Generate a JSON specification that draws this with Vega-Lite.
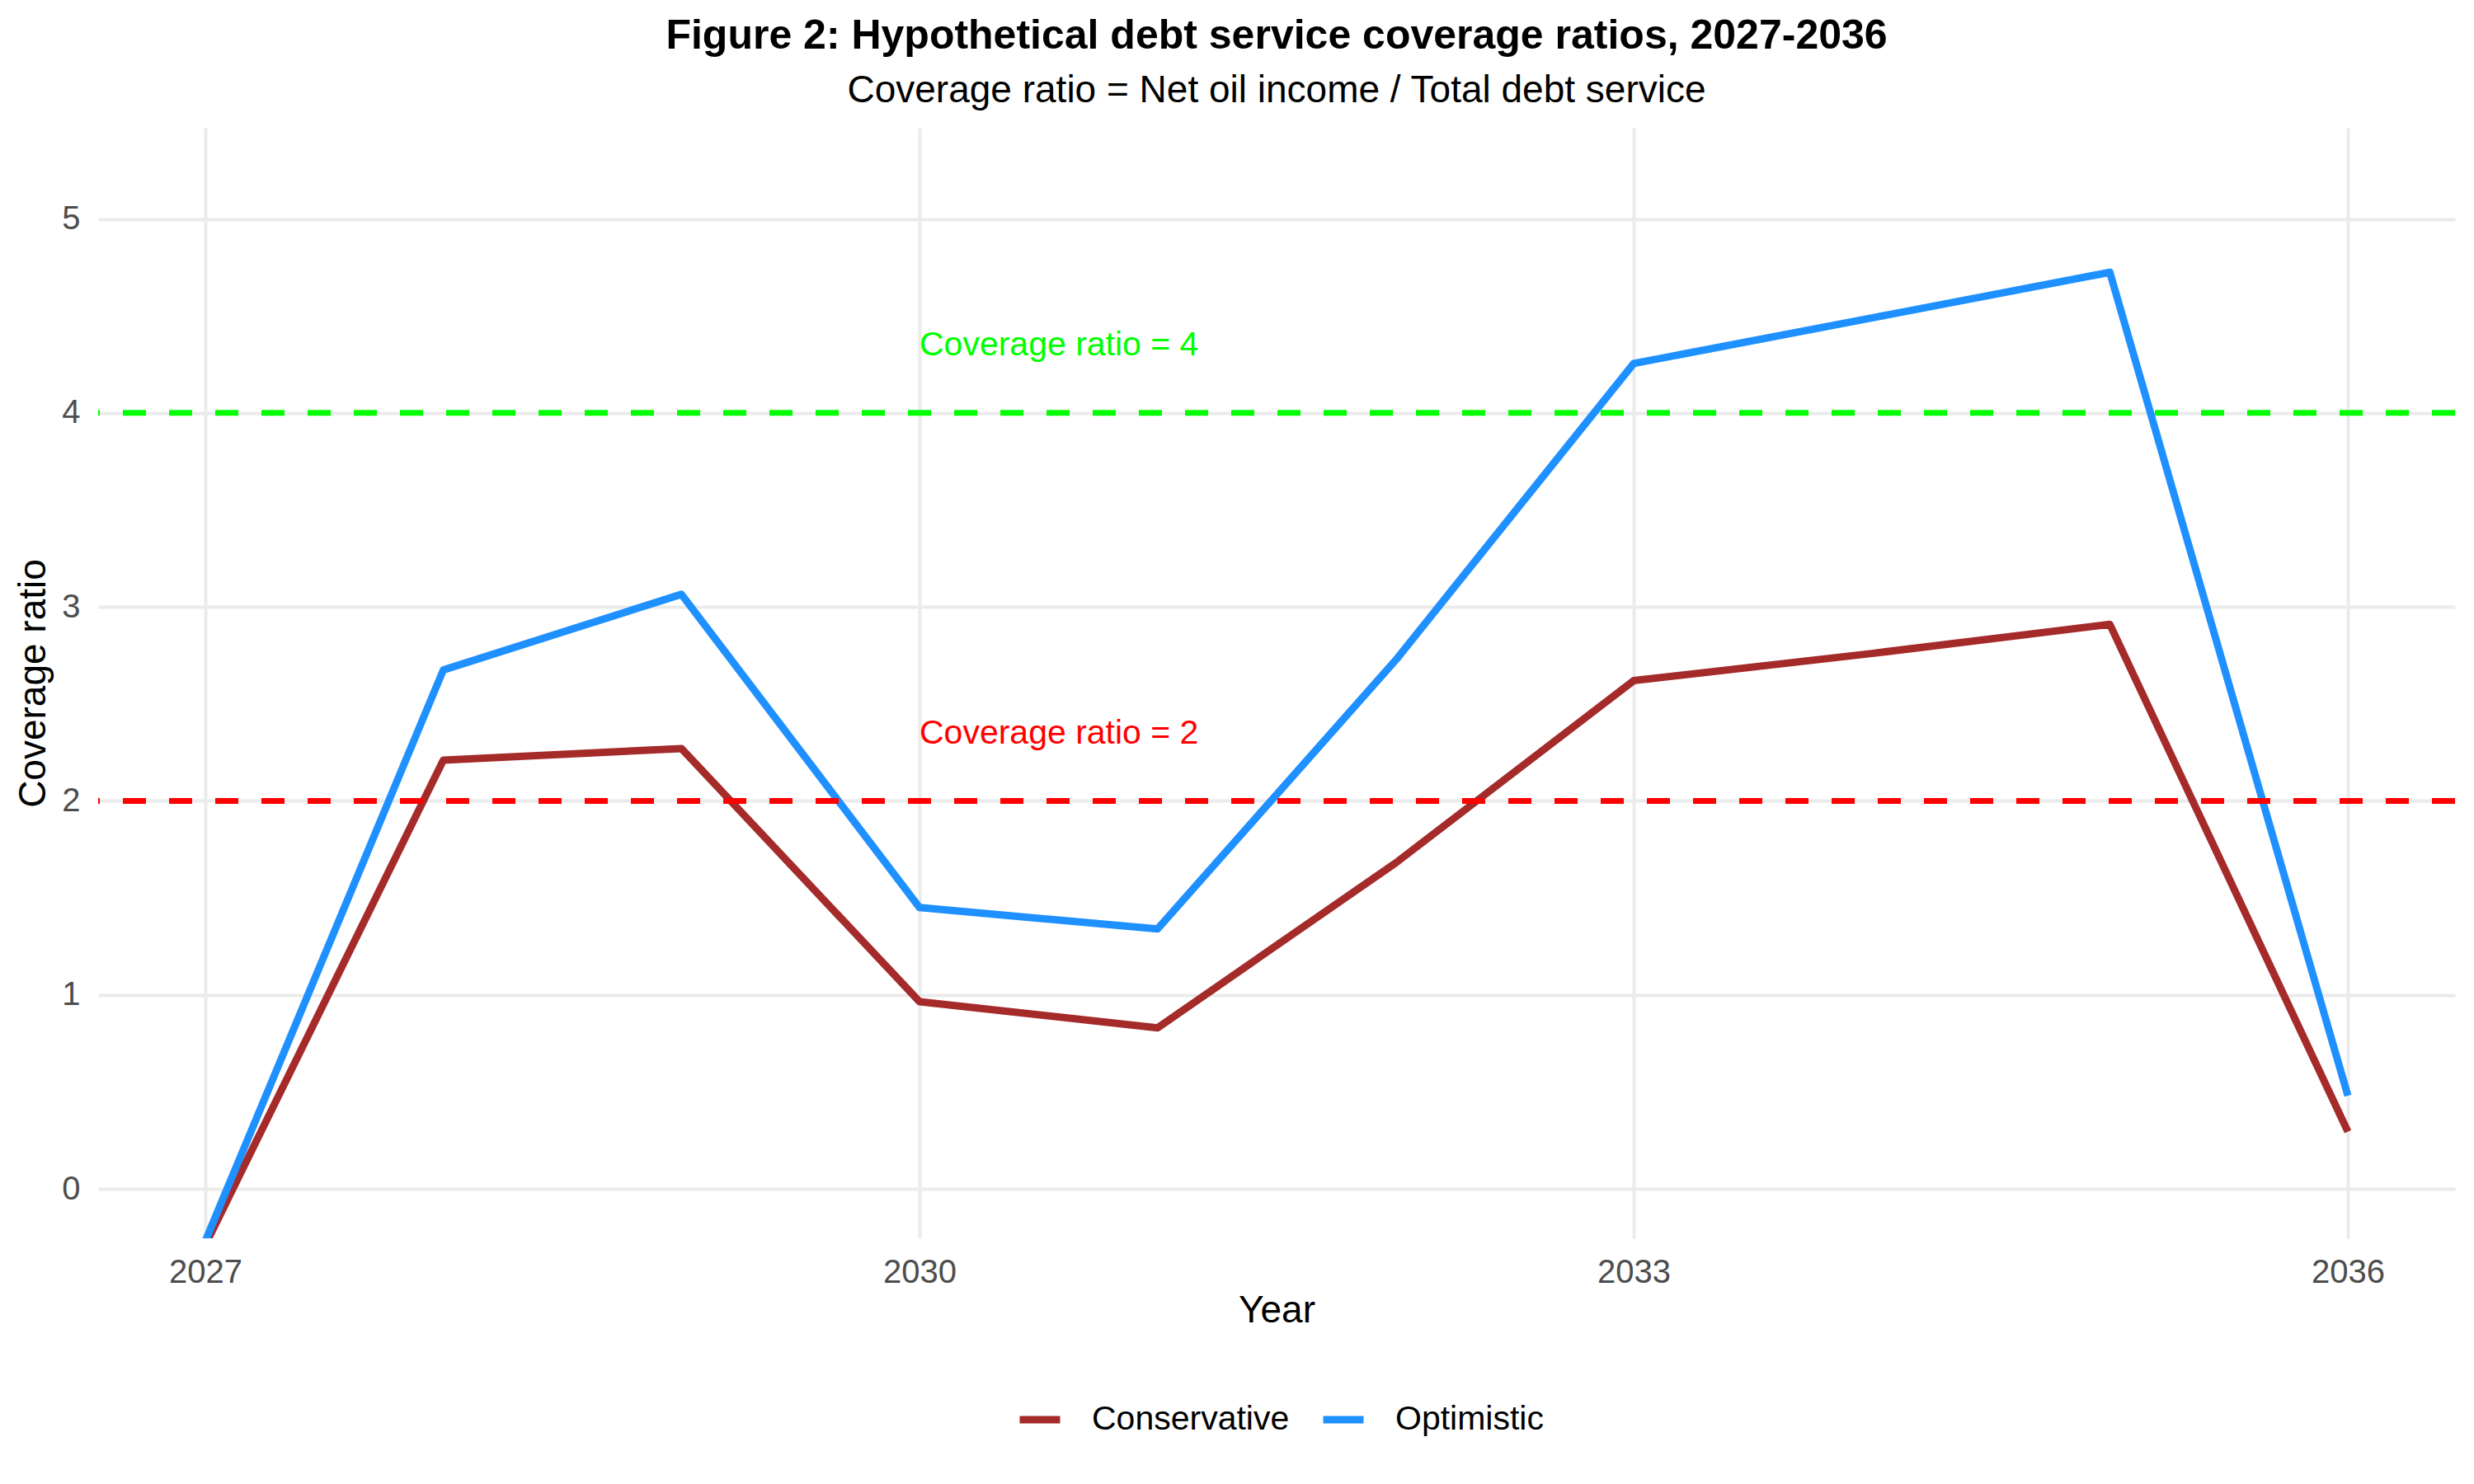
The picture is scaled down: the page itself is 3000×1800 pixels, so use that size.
{
  "$schema": "https://vega.github.io/schema/vega-lite/v6.json",
  "width": 2858,
  "height": 1347,
  "autosize": {"type": "none"},
  "padding": {"left": 119, "top": 155, "right": 23, "bottom": 298},
  "background": "white",
  "title": {
    "text": "Figure 2: Hypothetical debt service coverage ratios, 2027-2036",
    "subtitle": "Coverage ratio = Net oil income / Total debt service",
    "anchor": "middle",
    "fontSize": 50,
    "fontWeight": "bold",
    "color": "black",
    "subtitleFontSize": 46,
    "subtitleColor": "black",
    "subtitlePadding": 19,
    "offset": 22
  },
  "config": {
    "font": "Liberation Sans, Arial, sans-serif",
    "view": {"stroke": null},
    "axis": {
      "domain": false,
      "ticks": false,
      "gridColor": "#ebebeb",
      "gridWidth": 4,
      "labelFontSize": 40,
      "labelColor": "#4d4d4d",
      "titleFontSize": 46,
      "titleFontWeight": "normal",
      "titleColor": "black"
    }
  },
  "datasets": {
    "ratios": [
      {"year": 2027, "scenario": "Conservative", "ratio": -0.29},
      {"year": 2028, "scenario": "Conservative", "ratio": 2.21},
      {"year": 2029, "scenario": "Conservative", "ratio": 2.27},
      {"year": 2030, "scenario": "Conservative", "ratio": 0.965},
      {"year": 2031, "scenario": "Conservative", "ratio": 0.83},
      {"year": 2032, "scenario": "Conservative", "ratio": 1.68},
      {"year": 2033, "scenario": "Conservative", "ratio": 2.62},
      {"year": 2034, "scenario": "Conservative", "ratio": 2.76},
      {"year": 2035, "scenario": "Conservative", "ratio": 2.91},
      {"year": 2036, "scenario": "Conservative", "ratio": 0.295},
      {"year": 2027, "scenario": "Optimistic", "ratio": -0.27},
      {"year": 2028, "scenario": "Optimistic", "ratio": 2.675},
      {"year": 2029, "scenario": "Optimistic", "ratio": 3.065},
      {"year": 2030, "scenario": "Optimistic", "ratio": 1.45},
      {"year": 2031, "scenario": "Optimistic", "ratio": 1.34},
      {"year": 2032, "scenario": "Optimistic", "ratio": 2.725},
      {"year": 2033, "scenario": "Optimistic", "ratio": 4.255},
      {"year": 2034, "scenario": "Optimistic", "ratio": 4.49},
      {"year": 2035, "scenario": "Optimistic", "ratio": 4.725},
      {"year": 2036, "scenario": "Optimistic", "ratio": 0.48}
    ]
  },
  "layer": [
    {
      "data": {"name": "ratios"},
      "mark": {"type": "line", "strokeWidth": 9, "strokeJoin": "round", "clip": true},
      "encoding": {
        "x": {
          "field": "year",
          "type": "quantitative",
          "scale": {"domain": [2026.55, 2036.45], "nice": false, "zero": false},
          "axis": {"values": [2027, 2030, 2033, 2036], "format": "d", "title": "Year", "labelPadding": 21, "titlePadding": 4}
        },
        "y": {
          "field": "ratio",
          "type": "quantitative",
          "scale": {"domain": [-0.255, 5.47], "nice": false, "zero": false},
          "axis": {"values": [0, 1, 2, 3, 4, 5], "format": "d", "title": "Coverage ratio", "labelPadding": 22, "titlePadding": 10}
        },
        "color": {
          "field": "scenario",
          "type": "nominal",
          "scale": {"domain": ["Conservative", "Optimistic"], "range": ["#A52A2A", "#1E90FF"]},
          "legend": {
            "title": null,
            "orient": "none",
            "direction": "horizontal",
            "legendX": 1113,
            "legendY": 1538,
            "padding": 0,
            "symbolType": "stroke",
            "symbolSize": 2401,
            "symbolStrokeWidth": 9,
            "labelFontSize": 41,
            "labelColor": "black",
            "labelLimit": 0,
            "labelOffset": 34,
            "columnPadding": 22
          }
        }
      }
    },
    {
      "data": {"values": [{"level": 4}]},
      "mark": {"type": "rule", "color": "#00FF00", "strokeWidth": 7, "strokeDash": [28, 28]},
      "encoding": {"y": {"field": "level", "type": "quantitative"}}
    },
    {
      "data": {"values": [{"level": 2}]},
      "mark": {"type": "rule", "color": "#FF0000", "strokeWidth": 7, "strokeDash": [28, 28]},
      "encoding": {"y": {"field": "level", "type": "quantitative"}}
    },
    {
      "data": {"values": [{"year": 2030, "pos": 4.3, "label": "Coverage ratio = 4"}]},
      "mark": {"type": "text", "color": "#00FF00", "fontSize": 41, "align": "left", "baseline": "middle", "dy": -11},
      "encoding": {
        "x": {"field": "year", "type": "quantitative"},
        "y": {"field": "pos", "type": "quantitative"},
        "text": {"field": "label"}
      }
    },
    {
      "data": {"values": [{"year": 2030, "pos": 2.3, "label": "Coverage ratio = 2"}]},
      "mark": {"type": "text", "color": "#FF0000", "fontSize": 41, "align": "left", "baseline": "middle", "dy": -11},
      "encoding": {
        "x": {"field": "year", "type": "quantitative"},
        "y": {"field": "pos", "type": "quantitative"},
        "text": {"field": "label"}
      }
    }
  ]
}
